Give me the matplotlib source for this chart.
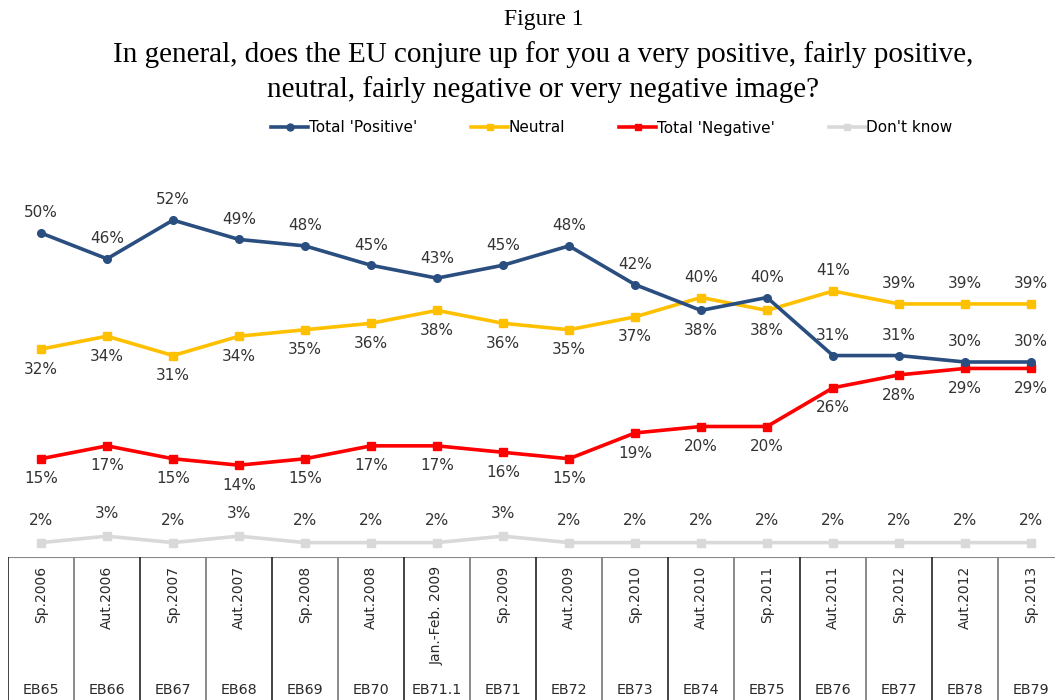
import matplotlib
matplotlib.use("Agg")
import matplotlib.pyplot as plt
from matplotlib.lines import Line2D

waves = ["EB65", "EB66", "EB67", "EB68", "EB69", "EB70", "EB71.1", "EB71",
         "EB72", "EB73", "EB74", "EB75", "EB76", "EB77", "EB78", "EB79"]
periods = ["Sp.2006", "Aut.2006", "Sp.2007", "Aut.2007", "Sp.2008", "Aut.2008",
           "Jan.-Feb. 2009", "Sp.2009", "Aut.2009", "Sp.2010", "Aut.2010",
           "Sp.2011", "Aut.2011", "Sp.2012", "Aut.2012", "Sp.2013"]
positive = [50, 46, 52, 49, 48, 45, 43, 45, 48, 42, 38, 40, 31, 31, 30, 30]
neutral = [32, 34, 31, 34, 35, 36, 38, 36, 35, 37, 40, 38, 41, 39, 39, 39]
negative = [15, 17, 15, 14, 15, 17, 17, 16, 15, 19, 20, 20, 26, 28, 29, 29]
dontknow = [2, 3, 2, 3, 2, 2, 2, 3, 2, 2, 2, 2, 2, 2, 2, 2]

W, H = 1055, 700
fig = plt.figure(figsize=(W / 100, H / 100), dpi=100)

def fx(px):
    return px / W

def fy(py):
    return 1 - py / H

left_px, right_px = 8, 8 + 16 * 66
top_px, bot_px = 180, 557
ax = fig.add_axes([fx(left_px), fy(bot_px), fx(right_px - left_px), (bot_px - top_px) / H])
n = len(waves)
x = list(range(n))
ppp = 6.45  # pixels per percent
zero_px = 555.5
ax.set_xlim(-0.5, n - 0.5)
ax.set_ylim((zero_px - bot_px) / ppp, (zero_px - top_px) / ppp)
ax.axis("off")

c_pos = "#2A4E7F"
c_neu = "#FFC000"
c_neg = "#FF0000"
c_dk = "#D9D9D9"
lw = 2.6

ax.plot(x, dontknow, color=c_dk, lw=lw, marker="s", ms=6, zorder=2)
ax.plot(x, negative, color=c_neg, lw=lw, marker="s", ms=6, zorder=3)
ax.plot(x, neutral, color=c_neu, lw=lw, marker="s", ms=6, zorder=3)
ax.plot(x, positive, color=c_pos, lw=lw, marker="o", ms=5.5, zorder=4)

txt_c = "#333333"
fs = 11
off = 14.5

def lab(xi, v, above, dy=off):
    ax.annotate(f"{v}%", (xi, v), xytext=(0, dy if above else -dy),
                textcoords="offset points", ha="center", va="center",
                fontsize=fs, color=txt_c)

for i in range(n):
    lab(i, positive[i], i != 10)
    lab(i, neutral[i], i == 10 or i >= 12)
    lab(i, negative[i], False)
    lab(i, dontknow[i], True, 16)

# table below
tab = fig.add_axes([fx(left_px), 0, fx(right_px - left_px), fy(bot_px)])
tab.set_xlim(-0.5, n - 0.5)
tab.set_ylim(0, 1)
tab.axis("off")
tab.axhline(1, color="#888888", lw=1.5)
for i in range(n + 1):
    col = "#222222" if i % 2 == 0 else "#777777"
    tab.axvline(i - 0.5, color=col, lw=1.2)
for i in range(n):
    tab.text(i, 0.94, periods[i], rotation=90, ha="center", va="top",
             fontsize=10, color="#2a2a2a")
    tab.text(i, 0.07, waves[i], ha="center", va="center", fontsize=10.3,
             color="#2a2a2a")

serif = "Liberation Serif"
fig.text(0.515, fy(20), "Figure 1", ha="center", va="center",
         fontsize=17, family=serif)
fig.text(0.515, fy(55), "In general, does the EU conjure up for you a very positive, fairly positive,",
         ha="center", va="center", fontsize=21, family=serif)
fig.text(0.515, fy(90), "neutral, fairly negative or very negative image?",
         ha="center", va="center", fontsize=21, family=serif)

handles = [
    Line2D([], [], color=c_pos, lw=lw, marker="o", ms=5),
    Line2D([], [], color=c_neu, lw=lw, marker="s", ms=5),
    Line2D([], [], color=c_neg, lw=lw, marker="s", ms=5),
    Line2D([], [], color=c_dk, lw=lw, marker="s", ms=5),
]
labels = ["Total 'Positive'", "Neutral", "Total 'Negative'", "Don't know"]
fig.legend(handles, labels, loc="center", bbox_to_anchor=(fx(612), fy(128)),
           ncol=4, frameon=False, fontsize=11, handlelength=2.4,
           handletextpad=0.05, columnspacing=3.55)

fig.savefig("out.png", dpi=100)
